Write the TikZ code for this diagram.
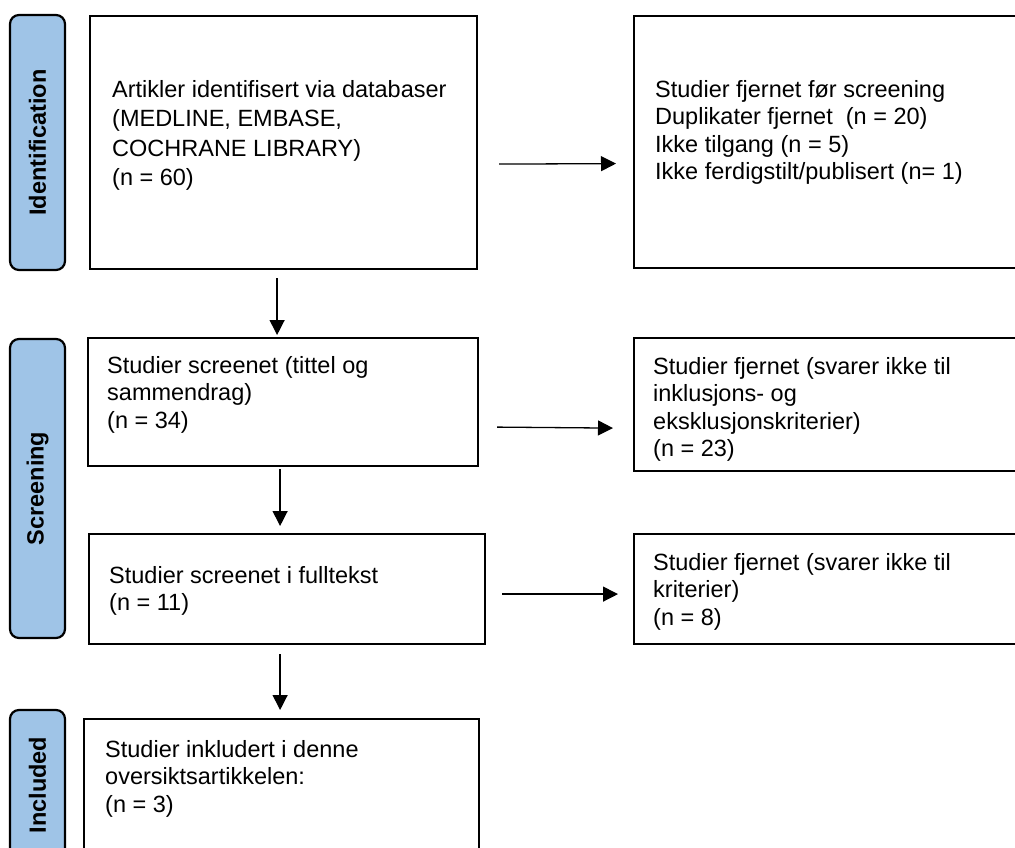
\documentclass[tikz,border=0pt]{standalone}
\usepackage{fontspec}
\setmainfont{Liberation Sans}
\usetikzlibrary{arrows.meta}
\definecolor{phaseblue}{RGB}{159,196,231}

\begin{document}
\begin{tikzpicture}[x=1pt, y=-1pt,
    box/.style={draw, line width=2.2pt, anchor=north west, inner sep=0pt},
    phase/.style={draw, line width=2.2pt, fill=phaseblue, rounded corners=9pt,
        rotate=90, minimum height=55pt, inner sep=0pt,
        font=\fontsize{23.5}{28}\selectfont\bfseries},
    txt/.style={anchor=north west, inner sep=0pt, align=left,
        font=\fontsize{23.5}{27.5}\selectfont},
    link/.style={-{Triangle[length=15pt, width=15pt]}, line width=1.3pt}]
    \useasboundingbox (0, 0) rectangle (1015, 848);
    \clip (0, 0) rectangle (1015, 848);

    \node[phase, minimum width=255pt] (identification) at (37.5, 142.5)
        {Identification};
    \node[phase, minimum width=299pt] (screening) at (37.5, 488.5)
        {Screening};
    \node[phase, minimum width=150pt] (included) at (37.5, 785) {Included};

    \node[box, minimum width=387pt, minimum height=253pt] (found) at (89, 15) {};
    \node[box, minimum width=420pt, minimum height=252pt] (removed) at (633, 15)
        {};
    \node[box, minimum width=390pt, minimum height=128pt] (abstracts)
        at (87, 337) {};
    \node[box, minimum width=420pt, minimum height=133pt] (excluded)
        at (633, 337) {};
    \node[box, minimum width=396pt, minimum height=110pt] (fulltext)
        at (88, 533) {};
    \node[box, minimum width=420pt, minimum height=110pt] (rejected)
        at (633, 533) {};
    \node[box, minimum width=395pt, minimum height=160pt] (review)
        at (83, 718) {};

    \node[txt, font=\fontsize{23.5}{29.5}\selectfont] (found-text) at (112, 80)
        {Artikler identifisert via databaser\\(MEDLINE, EMBASE,\\COCHRANE
        LIBRARY)\\(n = 60)};
    \node[txt] (removed-text) at (655, 80) {Studier fjernet før
        screening\\Duplikater fjernet\ \ (n = 20)\\Ikke tilgang (n =
        5)\\Ikke ferdigstilt/publisert (n= 1)};
    \node[txt] (abstracts-text) at (107, 356) {Studier screenet (tittel
        og\\sammendrag)\\(n = 34)};
    \node[txt] (excluded-text) at (653, 357) {Studier fjernet (svarer ikke
        til\\inklusjons- og\\eksklusjonskriterier)\\(n = 23)};
    \node[txt] (fulltext-text) at (109, 566) {Studier screenet i
        fulltekst\\(n = 11)};
    \node[txt] (rejected-text) at (653, 553) {Studier fjernet (svarer ikke
        til\\kriterier)\\(n = 8)};
    \node[txt] (review-text) at (105, 740) {Studier inkludert i
        denne\\oversiktsartikkelen:\\(n = 3)};

    \draw[link] ([shift={(21pt, -21.5pt)}]found.east)
        -- ([shift={(-17pt, -21.5pt)}]removed.west);
    \draw[link] ([shift={(-6.5pt, -8pt)}]found.south)
        -- ([shift={(-6pt, 2pt)}]abstracts.north);
    \draw[link] ([shift={(18pt, -25pt)}]abstracts.east)
        -- ([shift={(-20pt, -23.5pt)}]excluded.west);
    \draw[link] ([shift={(-3pt, -2pt)}]abstracts.south)
        -- ([shift={(-7pt, 7pt)}]fulltext.north);
    \draw[link] ([shift={(16pt, -5pt)}]fulltext.east)
        -- ([shift={(-15pt, -5pt)}]rejected.west);
    \draw[link] ([shift={(-7pt, -9pt)}]fulltext.south)
        -- ([shift={(-1.5pt, 8pt)}]review.north);
\end{tikzpicture}
\end{document}
